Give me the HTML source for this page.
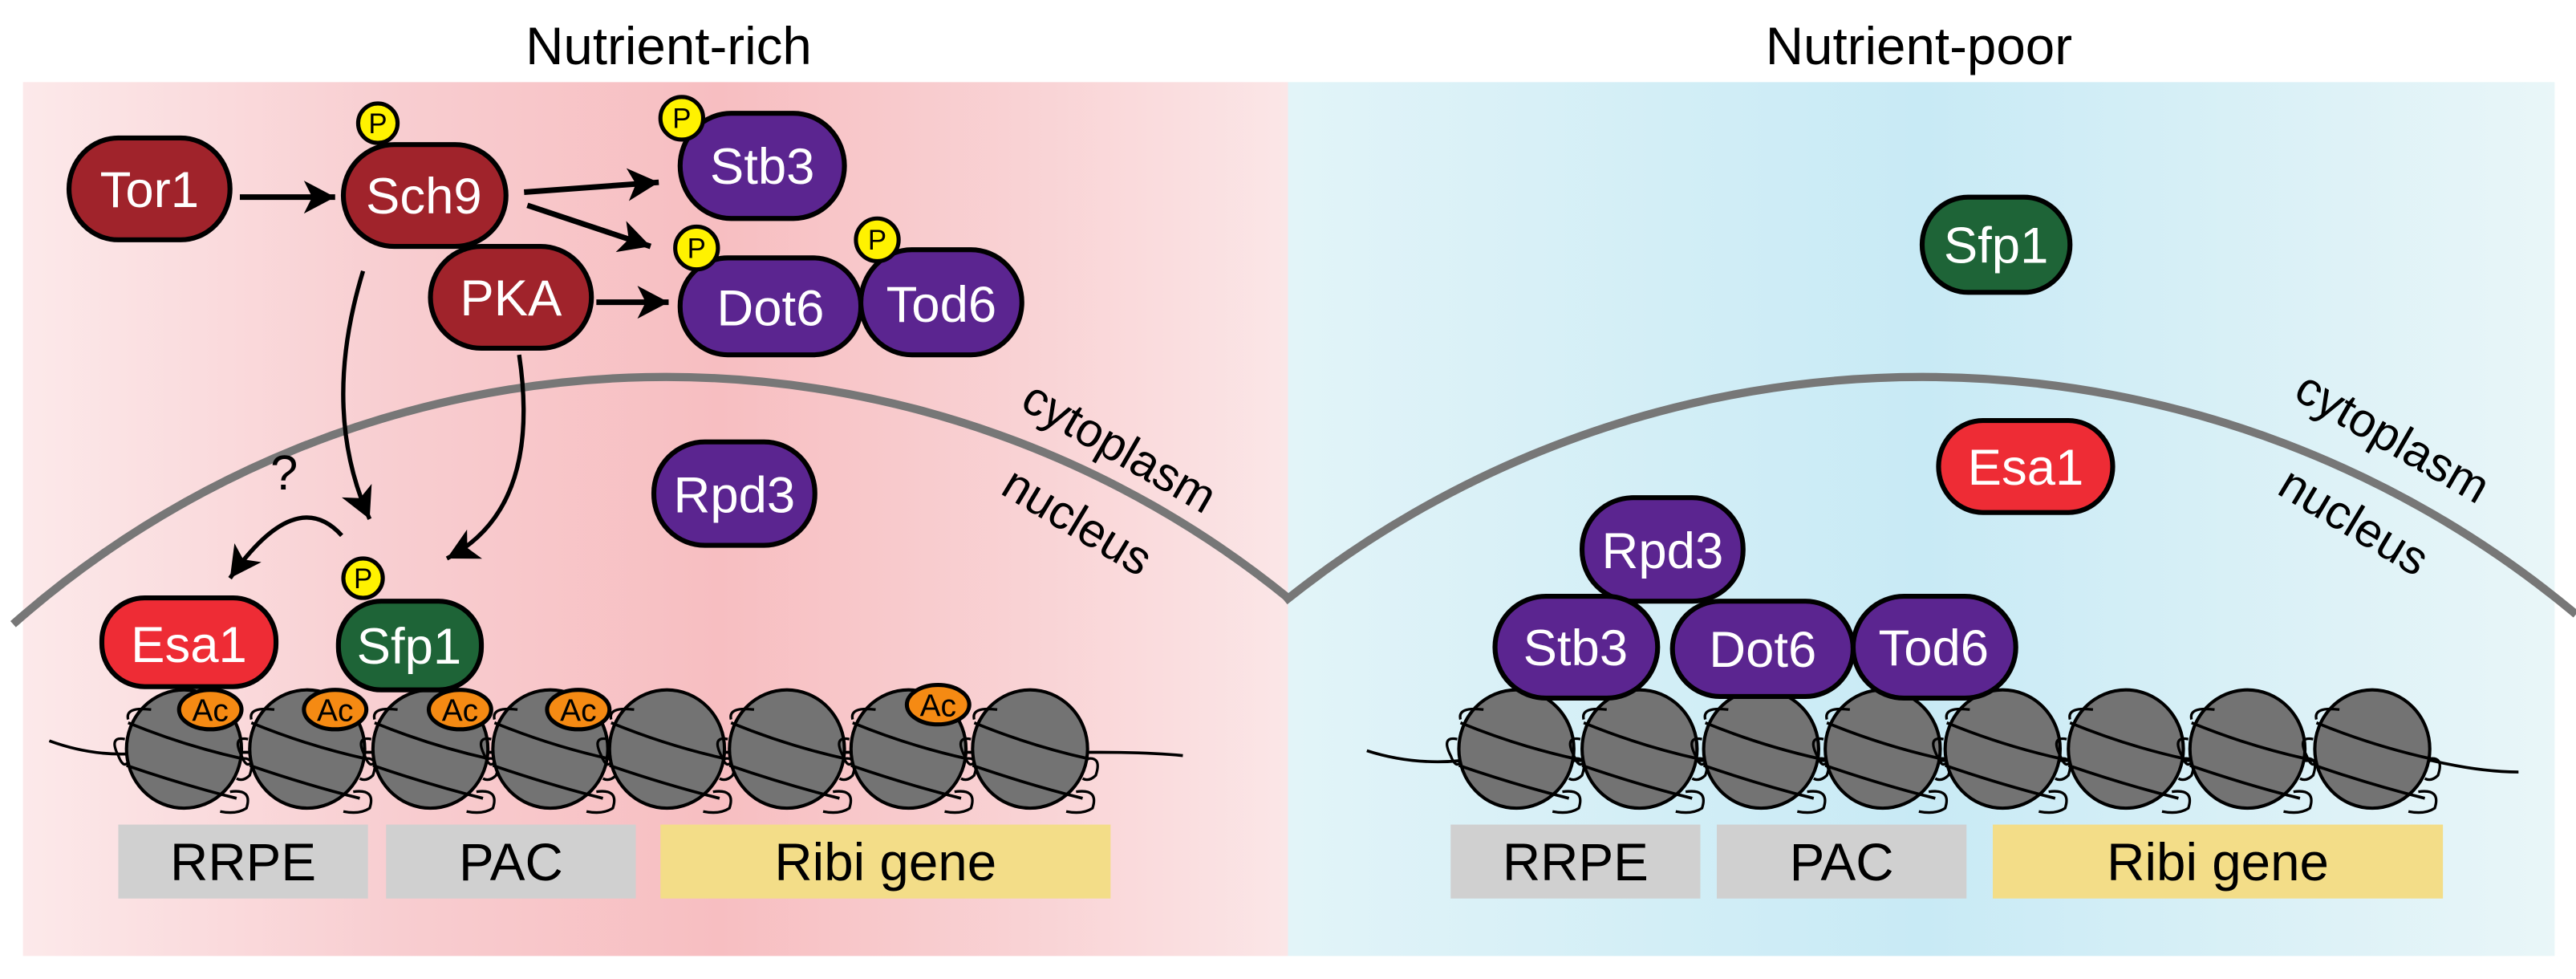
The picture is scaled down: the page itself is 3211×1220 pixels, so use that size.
<!DOCTYPE html>
<html><head><meta charset="utf-8"><style>
html,body{margin:0;padding:0;background:#fff;}
svg{display:block;}
text{font-family:"Liberation Sans",Arial,sans-serif;}
</style></head><body>
<svg width="3211" height="1220" viewBox="0 0 1568 596" preserveAspectRatio="none" xmlns="http://www.w3.org/2000/svg">
<defs>
<linearGradient id="gl" x1="0" x2="1" y1="0" y2="0">
<stop offset="0" stop-color="#fce9ea"/>
<stop offset="0.3" stop-color="#f8cdd0"/>
<stop offset="0.55" stop-color="#f7bec1"/>
<stop offset="0.8" stop-color="#f9d3d5"/>
<stop offset="1" stop-color="#fbe6e7"/>
</linearGradient>
<linearGradient id="gr" x1="0" x2="1" y1="0" y2="0">
<stop offset="0" stop-color="#e2f4f8"/>
<stop offset="0.5" stop-color="#c8eaf5"/>
<stop offset="1" stop-color="#e9f6f8"/>
</linearGradient>
<marker id="ah" markerUnits="userSpaceOnUse" markerWidth="24" markerHeight="24" refX="20" refY="10" orient="auto">
<path d="M20,10 L1,0 L6,10 L1,20 Z" fill="#000"/>
</marker>
<g id="nuc">
<ellipse cx="0" cy="0" rx="35" ry="36" fill="#737373" stroke="#000" stroke-width="2"/>
<path d="M-34,-18 Q-36,-26 -20,-24" fill="none" stroke="#000" stroke-width="1.6"/>
<path d="M-34,-16 Q0,-2 36,6" fill="none" stroke="#000" stroke-width="1.8"/>
<path d="M-36,-6 Q-46,-8 -40,4 Q-37,12 -34,8" fill="none" stroke="#000" stroke-width="1.6"/>
<path d="M-35,10 Q0,22 32,30" fill="none" stroke="#000" stroke-width="1.8"/>
<path d="M34,6 Q44,4 40,16 Q36,20 32,18" fill="none" stroke="#000" stroke-width="1.6"/>
<path d="M28,26 Q42,24 38,36 Q32,40 22,38" fill="none" stroke="#000" stroke-width="1.6"/>
</g>
</defs>

<text x="407" y="39" font-size="32" text-anchor="middle">Nutrient-rich</text>
<text x="1168" y="39" font-size="32" text-anchor="middle">Nutrient-poor</text>

<rect x="14" y="50" width="770" height="532" fill="url(#gl)"/>
<rect x="784" y="50" width="771" height="532" fill="url(#gr)"/>

<path d="M8,380 A600,600 0 0 1 784,364" fill="none" stroke="#777" stroke-width="5"/>
<path d="M782,366 A620,620 0 0 1 1568,374" fill="none" stroke="#777" stroke-width="5"/>

<text x="0" y="0" font-size="29" transform="translate(620,248) rotate(30)">cytoplasm</text>
<text x="0" y="0" font-size="29" transform="translate(608,300) rotate(31)">nucleus</text>
<text x="0" y="0" font-size="29" transform="translate(1395,242) rotate(30)">cytoplasm</text>
<text x="0" y="0" font-size="29" transform="translate(1385,300) rotate(31)">nucleus</text>

<path d="M30,451 Q60,462 90,458 L670,458 Q700,458 720,460" fill="none" stroke="#000" stroke-width="1.8"/>
<use href="#nuc" x="112" y="456"/>
<use href="#nuc" x="187" y="456"/>
<use href="#nuc" x="262" y="456"/>
<use href="#nuc" x="335" y="456"/>
<use href="#nuc" x="406" y="456"/>
<use href="#nuc" x="479" y="456"/>
<use href="#nuc" x="553" y="456"/>
<use href="#nuc" x="627" y="456"/>

<rect x="72" y="502" width="152" height="45" fill="#d0d0d0"/>
<rect x="235" y="502" width="152" height="45" fill="#d0d0d0"/>
<rect x="402" y="502" width="274" height="45" fill="#f3dd88"/>
<text x="148" y="536" font-size="32" text-anchor="middle">RRPE</text>
<text x="311" y="536" font-size="32" text-anchor="middle">PAC</text>
<text x="539" y="536" font-size="32" text-anchor="middle">Ribi gene</text>

<rect x="883" y="502" width="152" height="45" fill="#d0d0d0"/>
<rect x="1045" y="502" width="152" height="45" fill="#d0d0d0"/>
<rect x="1213" y="502" width="274" height="45" fill="#f3dd88"/>
<text x="959" y="536" font-size="32" text-anchor="middle">RRPE</text>
<text x="1121" y="536" font-size="32" text-anchor="middle">PAC</text>
<text x="1350" y="536" font-size="32" text-anchor="middle">Ribi gene</text>

<g stroke="#000" stroke-width="3">
<rect x="42" y="84" width="98" height="62" rx="30" ry="31" fill="#a0232b"/>
<rect x="209" y="88" width="99" height="62" rx="31" ry="31" fill="#a0232b"/>
<rect x="262" y="150" width="98" height="62" rx="31" ry="31" fill="#a0232b"/>
<rect x="414" y="69" width="100" height="64" rx="31" ry="32" fill="#5b2590"/>
<rect x="414" y="157" width="110" height="59" rx="29" ry="29" fill="#5b2590"/>
<rect x="524" y="152" width="98" height="64" rx="31" ry="32" fill="#5b2590"/>
<rect x="398" y="269" width="98" height="63" rx="31" ry="31" fill="#5b2590"/>
<rect x="62" y="364" width="106" height="54" rx="26" ry="26" fill="#ee2c35"/>
<rect x="206" y="366" width="87" height="54" rx="26" ry="26" fill="#1e6437"/>
</g>
<g fill="#fff" font-size="31" text-anchor="middle">
<text x="91" y="126">Tor1</text>
<text x="258" y="130">Sch9</text>
<text x="311" y="192">PKA</text>
<text x="464" y="112">Stb3</text>
<text x="469" y="198">Dot6</text>
<text x="573" y="196">Tod6</text>
<text x="447" y="312">Rpd3</text>
<text x="115" y="403">Esa1</text>
<text x="249" y="404">Sfp1</text>
</g>

<g stroke="#000" stroke-width="2.5" fill="#fff200">
<circle cx="230" cy="75" r="12"/>
<circle cx="415" cy="72" r="13"/>
<circle cx="424" cy="151" r="13"/>
<circle cx="534" cy="146" r="13"/>
<circle cx="221" cy="352" r="12"/>
</g>
<g font-size="17" text-anchor="middle" fill="#000">
<text x="230" y="81">P</text>
<text x="415" y="78">P</text>
<text x="424" y="157">P</text>
<text x="534" y="152">P</text>
<text x="221" y="358">P</text>
</g>

<g stroke="#000" stroke-width="2.5" fill="#f58a13">
<ellipse cx="128" cy="432" rx="19" ry="12"/>
<ellipse cx="204" cy="432" rx="19" ry="12"/>
<ellipse cx="280" cy="432" rx="19" ry="12"/>
<ellipse cx="352" cy="432" rx="19" ry="12"/>
<ellipse cx="571" cy="429" rx="19" ry="12"/>
</g>
<g font-size="19" text-anchor="middle" fill="#000">
<text x="128" y="439">Ac</text>
<text x="204" y="439">Ac</text>
<text x="280" y="439">Ac</text>
<text x="352" y="439">Ac</text>
<text x="571" y="436">Ac</text>
</g>

<g stroke="#000" fill="none">
<line x1="146" y1="120" x2="204" y2="120" stroke-width="3.4" marker-end="url(#ah)"/>
<line x1="319" y1="117" x2="401" y2="111" stroke-width="3.4" marker-end="url(#ah)"/>
<line x1="321" y1="125" x2="396" y2="150" stroke-width="3.4" marker-end="url(#ah)"/>
<line x1="363" y1="184" x2="407" y2="184" stroke-width="3.4" marker-end="url(#ah)"/>
<path d="M221,165 Q195,250 225,316" stroke-width="2.6" marker-end="url(#ah)"/>
<path d="M316,216 Q330,310 272,340" stroke-width="2.6" marker-end="url(#ah)"/>
<path d="M208,326 Q180,295 140,352" stroke-width="2.6" marker-end="url(#ah)"/>
</g>
<text x="173" y="298" font-size="30" text-anchor="middle">?</text>

<path d="M832,457 Q860,466 890,463 L1480,463 Q1510,470 1533,470" fill="none" stroke="#000" stroke-width="1.8"/>
<use href="#nuc" x="923" y="456"/>
<use href="#nuc" x="998" y="456"/>
<use href="#nuc" x="1072" y="456"/>
<use href="#nuc" x="1146" y="456"/>
<use href="#nuc" x="1219" y="456"/>
<use href="#nuc" x="1294" y="456"/>
<use href="#nuc" x="1368" y="456"/>
<use href="#nuc" x="1444" y="456"/>

<g stroke="#000" stroke-width="3">
<rect x="1170" y="120" width="90" height="58" rx="28" ry="29" fill="#1e6437"/>
<rect x="1180" y="256" width="106" height="56" rx="27" ry="28" fill="#ee2c35"/>
<rect x="963" y="303" width="98" height="63" rx="31" ry="31" fill="#5b2590"/>
<rect x="910" y="363" width="99" height="62" rx="31" ry="31" fill="#5b2590"/>
<rect x="1018" y="366" width="110" height="58" rx="29" ry="29" fill="#5b2590"/>
<rect x="1128" y="363" width="99" height="62" rx="31" ry="31" fill="#5b2590"/>
</g>
<g fill="#fff" font-size="31" text-anchor="middle">
<text x="1215" y="160">Sfp1</text>
<text x="1233" y="295">Esa1</text>
<text x="1012" y="346">Rpd3</text>
<text x="959" y="405">Stb3</text>
<text x="1073" y="406">Dot6</text>
<text x="1177" y="405">Tod6</text>
</g>
</svg>
</body></html>
